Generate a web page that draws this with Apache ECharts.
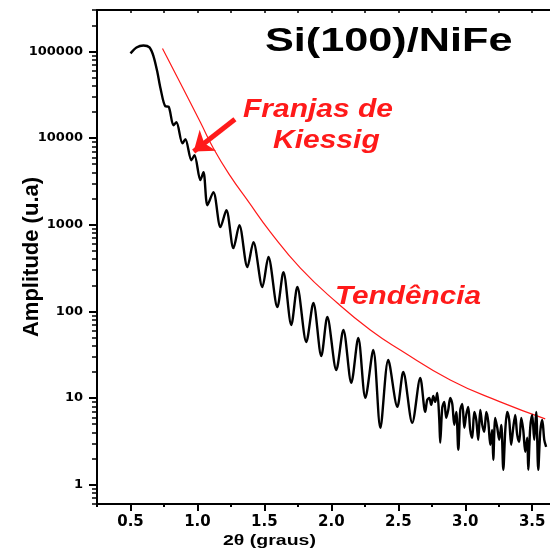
<!DOCTYPE html>
<html>
<head>
<meta charset="utf-8">
<script src="https://cdn.jsdelivr.net/npm/echarts@6/dist/echarts.min.js"></script>
<style>
  html, body { margin: 0; padding: 0; background: #ffffff; }
  #chart { width: 550px; height: 548px; }
</style>
</head>
<body>
<div id="chart"></div>
<script>
// X-ray reflectivity scan of Si(100)/NiFe: 2θ (degrees) and measured amplitude
const angle = [
  0.500, 0.545, 0.597, 0.642, 0.672, 0.701, 0.724, 0.761, 0.784, 0.821,
  0.843, 0.888, 0.910, 0.955, 0.978, 1.022, 1.045, 1.075, 1.119, 1.172,
  1.216, 1.269, 1.313, 1.373, 1.418, 1.485, 1.530, 1.597, 1.642, 1.701,
  1.746, 1.813, 1.866, 1.925, 1.970, 2.037, 2.090, 2.149, 2.201, 2.254,
  2.313, 2.366, 2.425, 2.493, 2.537, 2.604, 2.664,
  2.701, 2.716, 2.731, 2.746, 2.761, 2.776, 2.791, 2.806, 2.813, 2.828,
  2.843, 2.858, 2.873, 2.888, 2.903, 2.918, 2.933, 2.948, 2.963, 2.978,
  2.993, 3.007, 3.022, 3.037, 3.052, 3.067, 3.082, 3.097, 3.112, 3.127,
  3.142, 3.157, 3.172, 3.187, 3.201, 3.209, 3.224, 3.239, 3.254, 3.269,
  3.284, 3.299, 3.313, 3.328, 3.343, 3.358, 3.373, 3.388, 3.403, 3.418,
  3.433, 3.448, 3.463, 3.470, 3.485, 3.500, 3.515, 3.530, 3.545, 3.560,
  3.575, 3.590, 3.604
];
const amplitude = [
  94800, 111000, 117000, 111000, 87500, 57300, 37500, 23200, 23000, 14000,
  15200, 8710, 9680, 5550, 6340, 3270, 4040, 1680, 2380, 938,
  1470, 537, 989, 325, 630, 191, 424, 112, 284, 69.7,
  191, 44.4, 125, 30.6, 86.1, 21.1, 61.1, 15.0, 49.4, 10.05,
  35.9, 4.54, 27.5, 7.92, 20.0, 5.18, 17.1,
  6.93, 9.53, 10.05, 8.35, 10.6, 9.04, 11.5, 5.61, 3.05, 7.71,
  9.04, 5.91, 7.31, 10.05, 8.57, 4.91, 6.93, 2.53, 7.31, 8.57,
  4.54, 6.40, 7.92, 4.30, 3.48, 6.93, 5.61, 3.30, 7.31, 4.91,
  4.08, 6.93, 5.32, 2.89, 4.30, 1.94, 5.91, 4.54, 3.30, 4.91,
  1.49, 4.30, 6.93, 5.61, 2.89, 4.54, 6.40, 3.77, 3.13, 5.91,
  4.30, 2.40, 3.48, 1.49, 4.54, 6.40, 3.30, 6.93, 1.49, 4.08,
  5.61, 3.30, 2.74
];

// Decay trend drawn over the fringe maxima
const trendAngle = [0.739, 0.873, 1.022, 1.119, 1.246, 1.373, 1.545, 1.769, 2.045, 2.291, 2.515, 2.888, 3.261, 3.597];
const trendAmplitude = [108000, 42800, 15200, 7630, 3630, 1920, 822, 316, 125, 61.1, 35.9, 16.2, 9.04, 5.76];

// Axis tick labels
const xTickLabels = [0.5, 1.0, 1.5, 2.0, 2.5, 3.0, 3.5];
const yTickLabels = [1, 10, 100, 1000, 10000, 100000];

const X_MIN = 0.25, X_MAX = 3.7;
const Y_MIN = 0.6, Y_MAX = 300000;

// quarter-degree minor ticks along 2θ
const xMinorTicks = [];
for (let v = 0.25; v <= X_MAX + 1e-9; v += 0.25) xMinorTicks.push(Math.round(v * 100) / 100);

// 2..9 × 10^k minor ticks on the logarithmic amplitude axis
const yMinorTicks = [];
for (let k = -1; k <= 5; k++) {
  for (let m = 1; m <= 9; m++) {
    const v = m * Math.pow(10, k);
    if (v >= Y_MIN - 1e-9 && v <= Y_MAX + 1e-9) yMinorTicks.push(v);
  }
}

const curve = angle.map((a, i) => [a, amplitude[i]]);
const trend = trendAngle.map((a, i) => [a, trendAmplitude[i]]);

const RED = '#ff1a1a';
const labelFont = '"DejaVu Sans"';

const chart = echarts.init(document.getElementById('chart'), null, { renderer: 'canvas' });

chart.setOption({
  animation: false,
  backgroundColor: '#ffffff',
  grid: { left: 97, top: 10, width: 462, height: 494, containLabel: false, outerBoundsMode: 'none' },
  xAxis: [
    {
      type: 'value', min: X_MIN, max: X_MAX, position: 'bottom',
      axisLine: { show: true, lineStyle: { color: '#000', width: 2 } },
      axisTick: { show: true, length: 7, inside: false, customValues: xTickLabels, lineStyle: { color: '#000', width: 2 } },
      axisLabel: {
        show: true, customValues: xTickLabels, margin: 11,
        formatter: v => v.toFixed(1),
        color: '#000', fontFamily: labelFont, fontWeight: 'bold', fontSize: 15
      },
      splitLine: { show: false }
    },
    {
      type: 'value', min: X_MIN, max: X_MAX, position: 'bottom',
      axisLine: { show: false },
      axisTick: { show: true, length: 3, customValues: xMinorTicks, lineStyle: { color: '#000', width: 2 } },
      axisLabel: { show: false },
      splitLine: { show: false }
    },
    {
      type: 'value', min: X_MIN, max: X_MAX, position: 'top',
      axisLine: { show: true, lineStyle: { color: '#000', width: 2 } },
      axisTick: { show: true, inside: true, length: 3, customValues: xMinorTicks, lineStyle: { color: '#000', width: 1.5 } },
      axisLabel: { show: false },
      splitLine: { show: false }
    }
  ],
  yAxis: [
    {
      type: 'log', logBase: 10, min: Y_MIN, max: Y_MAX, position: 'left',
      name: 'Amplitude (u.a)', nameLocation: 'middle', nameGap: 54, nameMoveOverlap: false,
      nameTextStyle: { color: '#000', fontFamily: '"Liberation Sans"', fontWeight: 'bold', fontSize: 22 },
      axisLine: { show: true, lineStyle: { color: '#000', width: 2 } },
      axisTick: { show: true, length: 8, customValues: yTickLabels, lineStyle: { color: '#000', width: 2 } },
      axisLabel: {
        show: true, customValues: yTickLabels, margin: 14,
        formatter: v => String(Math.round(v)),
        color: '#000', fontFamily: labelFont, fontWeight: 'bold', fontSize: 13
      },
      splitLine: { show: false }
    },
    {
      type: 'log', logBase: 10, min: Y_MIN, max: Y_MAX, position: 'left',
      axisLine: { show: false },
      axisTick: { show: true, length: 5, customValues: yMinorTicks, lineStyle: { color: '#000', width: 1.5 } },
      axisLabel: { show: false },
      splitLine: { show: false }
    }
  ],
  series: [
    {
      name: 'Si(100)/NiFe',
      type: 'line',
      data: curve,
      xAxisIndex: 0, yAxisIndex: 0,
      showSymbol: false,
      smooth: 0.3,
      clip: true,
      lineStyle: { color: '#000', width: 2.4 },
      z: 3
    },
    {
      name: 'Tendência',
      type: 'line',
      data: trend,
      xAxisIndex: 0, yAxisIndex: 0,
      showSymbol: false,
      smooth: true,
      clip: true,
      lineStyle: { color: RED, width: 1.2 },
      z: 2,
      markLine: {
        silent: true,
        symbol: ['none', 'arrow'],
        symbolSize: [20, 18],
        label: { show: false },
        lineStyle: { color: RED, width: 5, type: 'solid' },
        data: [[ { coord: [1.28, 16500] }, { coord: [0.972, 7000] } ]]
      }
    }
  ],
  graphic: [
    {
      type: 'text', x: 265, y: 42, scaleX: 1.31,
      style: { text: 'Si(100)/NiFe', fill: '#000', font: 'bold 33px "Liberation Sans"', textAlign: 'left', textVerticalAlign: 'middle' }
    },
    {
      type: 'text', x: 243, y: 110, scaleX: 1.2,
      style: { text: 'Franjas de', fill: RED, font: 'italic bold 25px "Liberation Sans"', textAlign: 'left', textVerticalAlign: 'middle' }
    },
    {
      type: 'text', x: 273, y: 141, scaleX: 1.2,
      style: { text: 'Kiessig', fill: RED, font: 'italic bold 25px "Liberation Sans"', textAlign: 'left', textVerticalAlign: 'middle' }
    },
    {
      type: 'text', x: 335, y: 297, scaleX: 1.19,
      style: { text: 'Tendência', fill: RED, font: 'italic bold 25px "Liberation Sans"', textAlign: 'left', textVerticalAlign: 'middle' }
    },
    {
      type: 'text', x: 223, y: 541, scaleX: 1.3,
      style: { text: '2θ (graus)', fill: '#000', font: 'bold 15px "Liberation Sans"', textAlign: 'left', textVerticalAlign: 'middle' }
    }
  ]
});
</script>
</body>
</html>
